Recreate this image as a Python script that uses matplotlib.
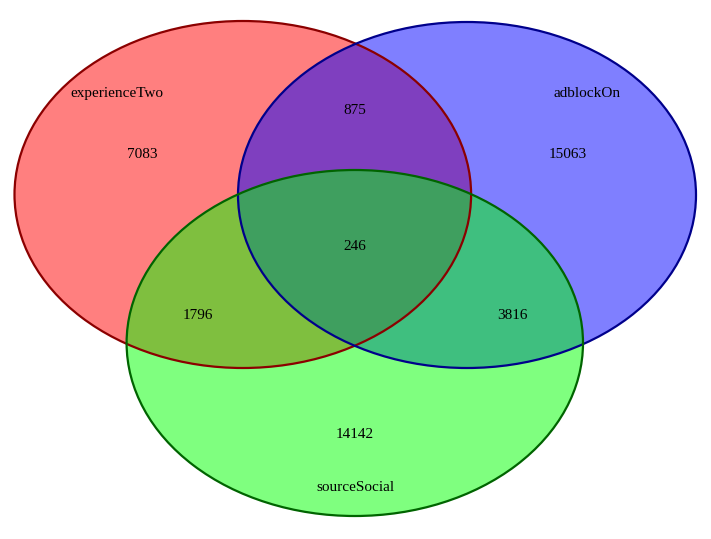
import matplotlib
matplotlib.use("Agg")
import matplotlib.pyplot as plt
from matplotlib.patches import Ellipse

set_names = ["experienceTwo", "adblockOn", "sourceSocial"]
region_labels = ["A", "B", "C", "AB", "AC", "BC", "ABC"]
region_counts = [7083, 15063, 14142, 875, 1796, 3816, 246]

fill_colors = ["#FF0000", "#0000FF", "#00FF00"]
edge_colors = ["#8B0000", "#00008B", "#006400"]

# layout (pixel coords)
ell_centers = [(242.8, 194.5), (467.0, 195.0), (354.8, 343.0)]
ell_radii = [(228.3, 173.5), (229.0, 173.0), (228.2, 173.0)]
name_pos = [(117, 93.5), (587, 93.5), (355, 487.5)]
count_pos = {"A": (142, 154.5), "B": (568, 154.5), "C": (355, 434.5),
             "AB": (355, 110.5), "AC": (198, 315.5), "BC": (512, 315.5), "ABC": (355, 246.5)}

fig = plt.figure(figsize=(7.11, 5.39), dpi=100)
ax = fig.add_axes([0, 0, 1, 1])
ax.set_xlim(0, 711)
ax.set_ylim(539, 0)
ax.axis("off")

for (c, (rx, ry), fc) in zip(ell_centers, ell_radii, fill_colors):
    ax.add_patch(Ellipse(c, 2 * rx, 2 * ry, facecolor=fc, alpha=0.5, edgecolor="none"))
for (c, (rx, ry), ec) in zip(ell_centers, ell_radii, edge_colors):
    ax.add_patch(Ellipse(c, 2 * rx, 2 * ry, facecolor="none", edgecolor=ec, linewidth=1.6))

font = dict(family="Liberation Serif", fontsize=11, ha="center", va="center", color="black")
for lab, cnt in zip(region_labels, region_counts):
    x, y = count_pos[lab]
    ax.text(x, y, str(cnt), **font)
for name, (x, y) in zip(set_names, name_pos):
    ax.text(x, y, name, **font)

fig.savefig("out.png", dpi=100, facecolor="white")
